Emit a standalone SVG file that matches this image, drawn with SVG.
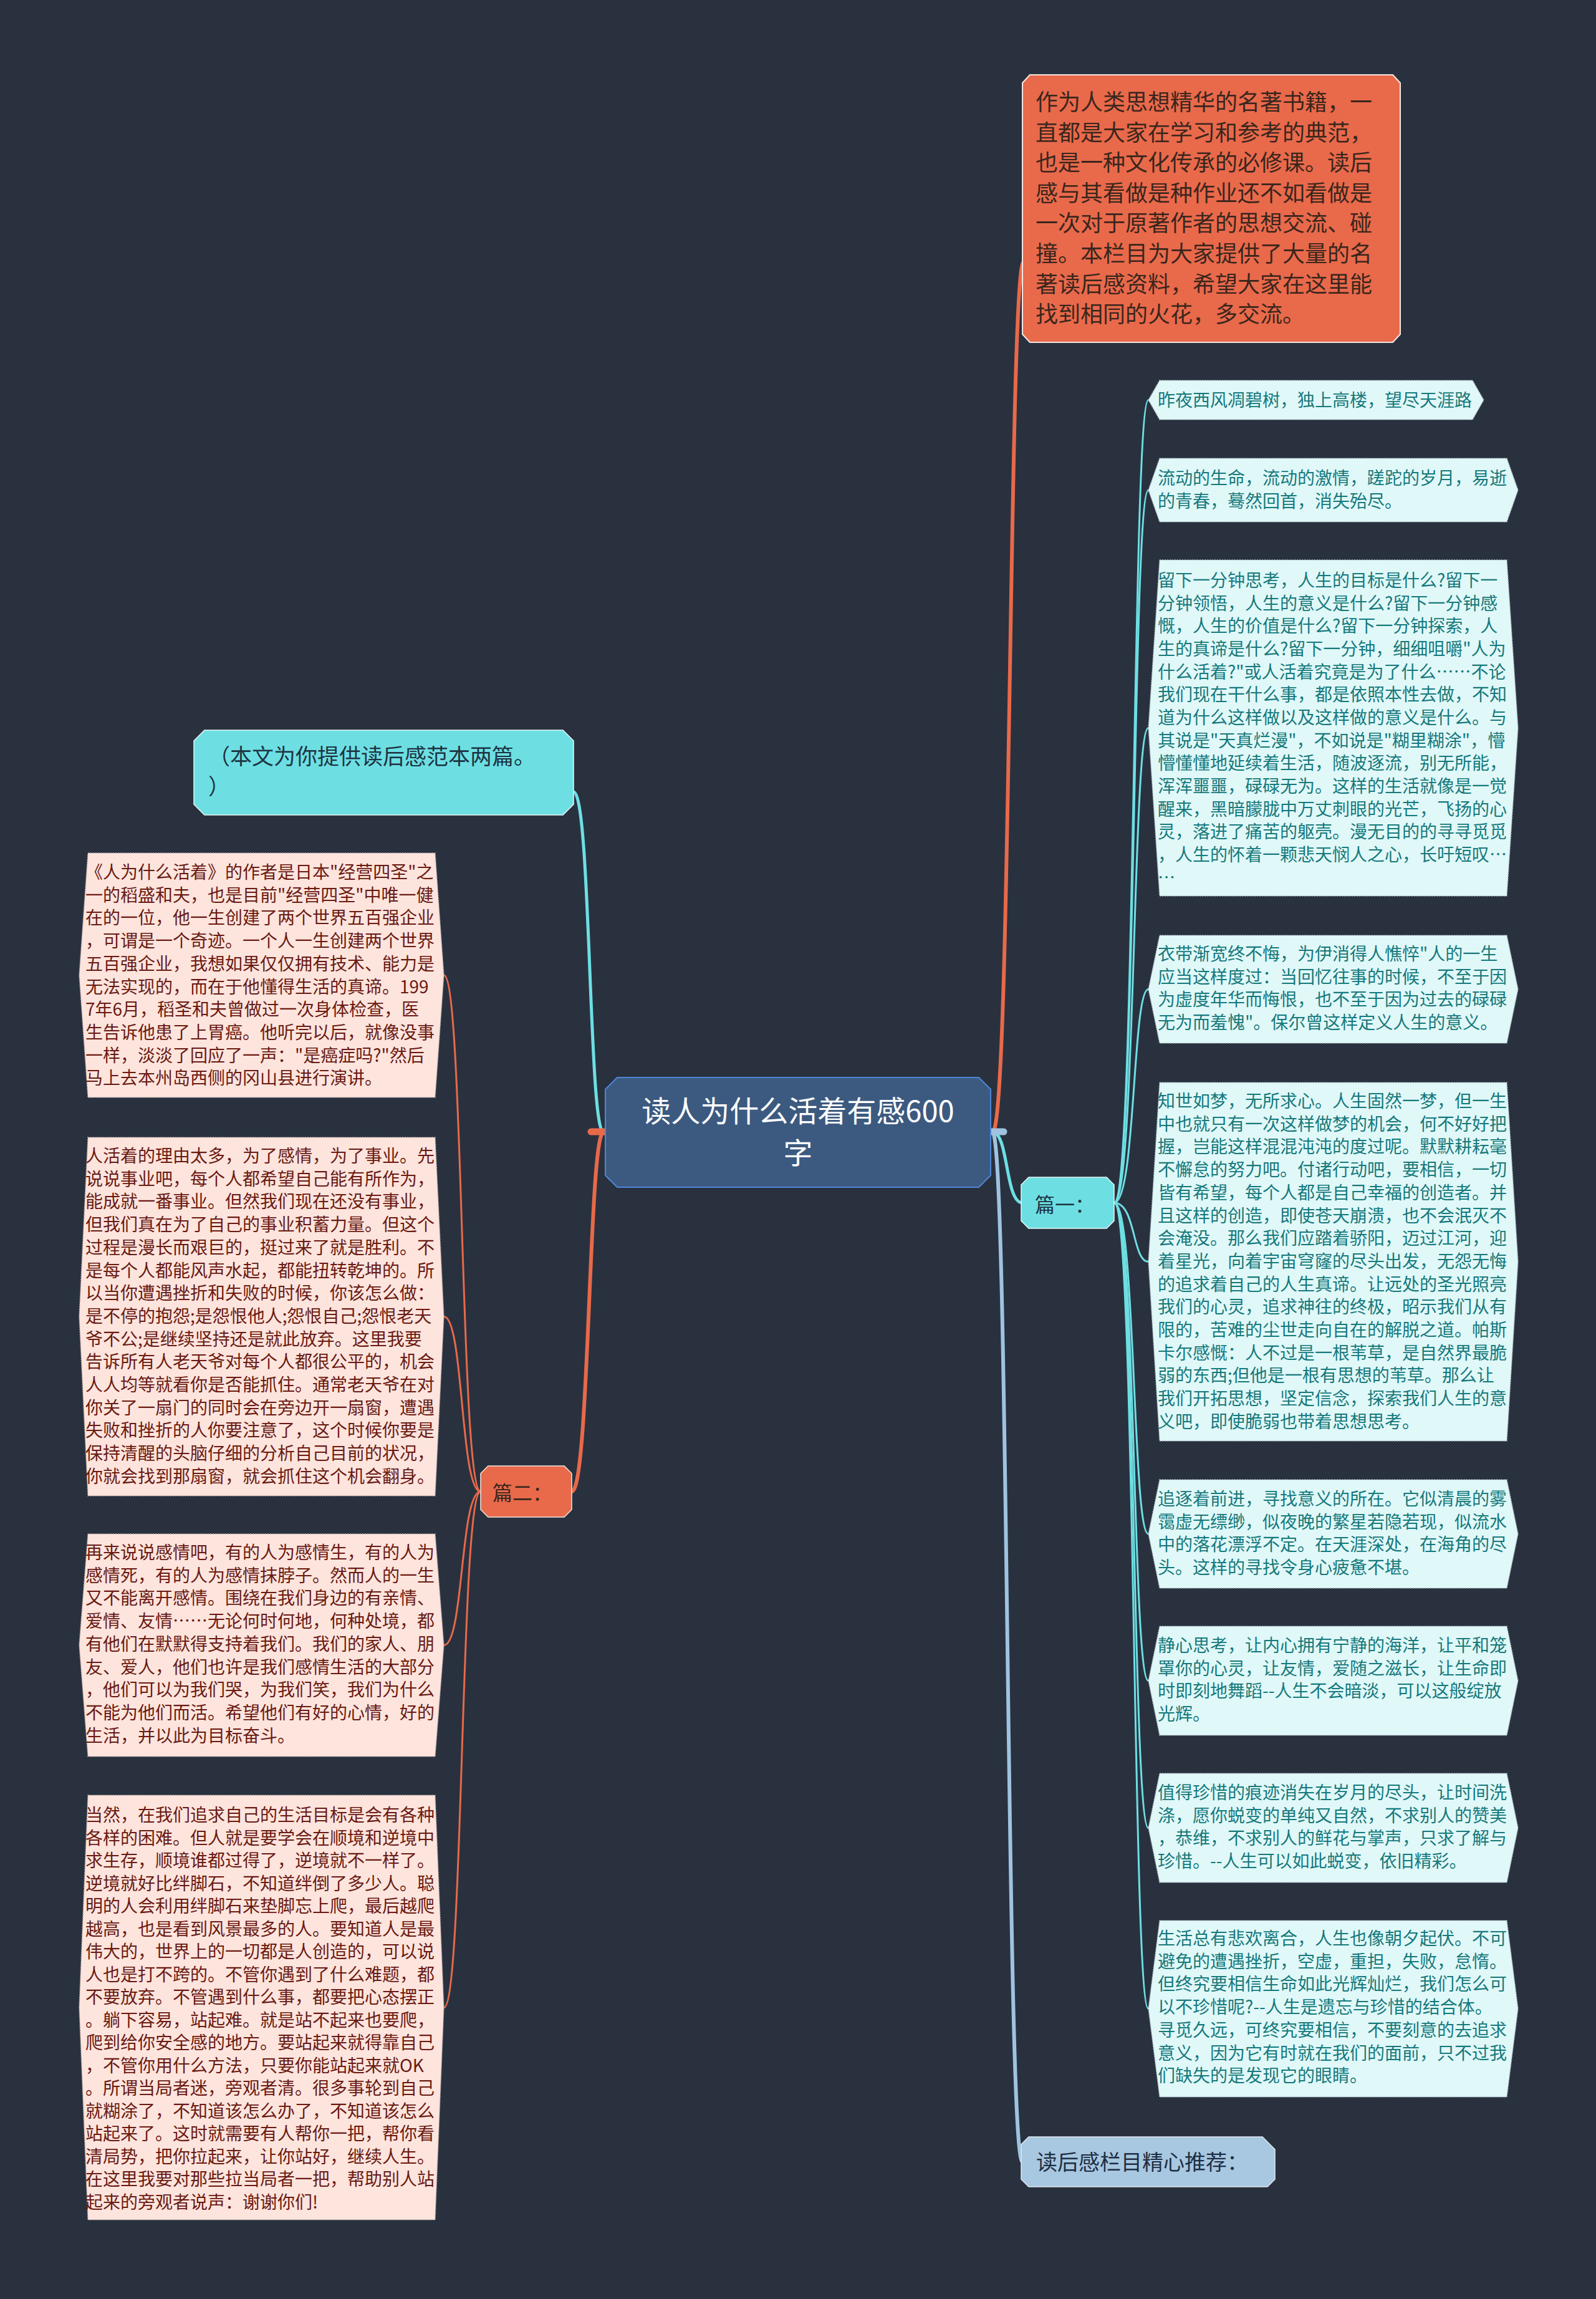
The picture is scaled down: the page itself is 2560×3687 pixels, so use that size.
<svg xmlns="http://www.w3.org/2000/svg" width="2560" height="3687" viewBox="0 0 2560 3687">
<style>
text{font-family:"Noto Sans CJK SC","Noto Sans",sans-serif}
.rt{font-size:28px;fill:#16797c}
.lt{font-size:28px;fill:#6a1a12}
.nr{fill:#e0f8f8;stroke:#aab8c0;stroke-width:1.5;stroke-dasharray:2 2}
.nl{fill:#fde4dd;stroke:#b9a8a6;stroke-width:1.5;stroke-dasharray:2 2}
.c{fill:none;stroke-linecap:round}
.or{stroke:#e8694a}
.cy{stroke:#6ddfe3}
.lb{stroke:#9fc3df}
</style>
<rect width="2560" height="3687" fill="#29313f"/>

<g id="connectors">
<path class="c or" stroke-width="6" d="M1592 1816 C1622 1816 1618 420 1642 420"/>
<path class="c lb" stroke-width="6" d="M1592 1816 C1618 1816 1614 3467 1640 3467"/>
<path class="c cy" stroke-width="5" d="M1592 1816 C1618 1816 1612 1929 1640 1929"/>
<line class="c lb" x1="1589" y1="1815" x2="1610" y2="1815" stroke-width="11"/>
<path class="c cy" stroke-width="5" d="M968 1816 C944 1816 948 1270 920 1270"/>
<path class="c or" stroke-width="6" d="M968 1816 C944 1816 946 2392 917 2392"/>
<line class="c or" x1="948" y1="1815" x2="971" y2="1815" stroke-width="11"/>
<g class="c cy" stroke-width="3">
<path d="M1787 1929 C1822 1929 1816 641.5 1842 641.5"/>
<path d="M1787 1929 C1822 1929 1816 786 1842 786"/>
<path d="M1787 1929 C1822 1929 1816 1167.5 1842 1167.5"/>
<path d="M1787 1929 C1822 1929 1816 1586.5 1842 1586.5"/>
<path d="M1787 1929 C1822 1929 1816 2023.5 1842 2023.5"/>
<path d="M1787 1929 C1822 1929 1816 2460 1842 2460"/>
<path d="M1787 1929 C1822 1929 1816 2695.5 1842 2695.5"/>
<path d="M1787 1929 C1822 1929 1816 2931.5 1842 2931.5"/>
<path d="M1787 1929 C1822 1929 1816 3221.5 1842 3221.5"/>
</g>
<g class="c or" stroke-width="3">
<path d="M771 2392 C738 2392 744 1564 712 1564"/>
<path d="M771 2392 C738 2392 744 2111.5 712 2111.5"/>
<path d="M771 2392 C738 2392 744 2638.5 712 2638.5"/>
<path d="M771 2392 C738 2392 744 3219.5 712 3219.5"/>
</g>
</g>

<g id="center">
<polygon points="990,1728 1570,1728 1589,1747 1589,1885 1570,1904 990,1904 971,1885 971,1747" fill="#3c5a80" stroke="#4f86d8" stroke-width="2"/>
<text text-anchor="middle" font-size="47" fill="#ffffff"><tspan x="1280" y="1799">读人为什么活着有感600</tspan><tspan x="1280" y="1866">字</tspan></text>
</g>

<g id="intro">
<polygon points="1652,120 2234,120 2246,133 2246,536 2234,549 1652,549 1640,536 1640,133" fill="#e9694b" stroke="#f4e6e0" stroke-width="2"/>
<text font-size="36" fill="#3a261c">
<tspan x="1661" y="177">作为人类思想精华的名著书籍，一</tspan>
<tspan x="1661" y="225.6">直都是大家在学习和参考的典范，</tspan>
<tspan x="1661" y="274.2">也是一种文化传承的必修课。读后</tspan>
<tspan x="1661" y="322.8">感与其看做是种作业还不如看做是</tspan>
<tspan x="1661" y="371.4">一次对于原著作者的思想交流、碰</tspan>
<tspan x="1661" y="420">撞。本栏目为大家提供了大量的名</tspan>
<tspan x="1661" y="468.6">著读后感资料，希望大家在这里能</tspan>
<tspan x="1661" y="517.2">找到相同的火花，多交流。</tspan>
</text>
</g>

<g id="pian1">
<polygon points="1650,1888 1775,1888 1787,1900 1787,1958 1775,1970 1650,1970 1638,1958 1638,1900" fill="#6ddfe3" stroke="#e8f8f8" stroke-width="1.5"/>
<text x="1660" y="1944" font-size="32" fill="#1d3442">篇一：</text>
</g>

<g id="recommend">
<polygon points="1650,3427 2025,3427 2045,3447 2045,3495 2033,3507 1650,3507 1638,3495 1638,3439" fill="#a8c7e0" stroke="#dfe9f2" stroke-width="1.5"/>
<text x="1662" y="3480" font-size="34" fill="#1d2f44">读后感栏目精心推荐：</text>
</g>

<g id="note">
<polygon points="328,1171 903,1171 920,1188 920,1290 903,1307 328,1307 311,1290 311,1188" fill="#6ddfe3" stroke="#e8f8f8" stroke-width="1.5"/>
<text font-size="35" fill="#1d3442">
<tspan x="334" y="1226">（本文为你提供读后感范本两篇。</tspan>
<tspan x="334" y="1274">）</tspan>
</text>
</g>

<g id="pian2">
<polygon points="783,2351 905,2351 917,2363 917,2421 905,2433 783,2433 771,2421 771,2363" fill="#e9694b" stroke="#f4e6e0" stroke-width="1.5"/>
<text x="790" y="2406" font-size="32" fill="#3a261c">篇二：</text>
</g>

<g id="r1">
<polygon class="nr" points="1860,610 2362,610 2380,641.5 2362,673 1860,673 1842,641.5"/>
<text class="rt" x="1857" y="652">昨夜西风凋碧树，独上高楼，望尽天涯路</text>
</g>

<g id="r2">
<polygon class="nr" points="1860,735 2417,735 2435,786 2417,837 1860,837 1842,786"/>
<text class="rt"><tspan x="1857" y="777">流动的生命，流动的激情，蹉跎的岁月，易逝</tspan><tspan x="1857" y="814">的青春，蓦然回首，消失殆尽。</tspan></text>
</g>

<g id="r3">
<polygon class="nr" points="1860,898 2417,898 2435,1167.5 2417,1437 1860,1437 1842,1167.5"/>
<text class="rt">
<tspan x="1857" y="941">留下一分钟思考，人生的目标是什么?留下一</tspan>
<tspan x="1857" y="977.7">分钟领悟，人生的意义是什么?留下一分钟感</tspan>
<tspan x="1857" y="1014.3">慨，人生的价值是什么?留下一分钟探索，人</tspan>
<tspan x="1857" y="1051">生的真谛是什么?留下一分钟，细细咀嚼"人为</tspan>
<tspan x="1857" y="1087.6">什么活着?"或人活着究竟是为了什么……不论</tspan>
<tspan x="1857" y="1124.3">我们现在干什么事，都是依照本性去做，不知</tspan>
<tspan x="1857" y="1160.9">道为什么这样做以及这样做的意义是什么。与</tspan>
<tspan x="1857" y="1197.6">其说是"天真烂漫"，不如说是"糊里糊涂"，懵</tspan>
<tspan x="1857" y="1234.2">懵懂懂地延续着生活，随波逐流，别无所能，</tspan>
<tspan x="1857" y="1270.9">浑浑噩噩，碌碌无为。这样的生活就像是一觉</tspan>
<tspan x="1857" y="1307.5">醒来，黑暗朦胧中万丈刺眼的光芒，飞扬的心</tspan>
<tspan x="1857" y="1344.2">灵，落进了痛苦的躯壳。漫无目的的寻寻觅觅</tspan>
<tspan x="1857" y="1380.8">，人生的怀着一颗悲天悯人之心，长吁短叹…</tspan>
<tspan x="1857" y="1417.5">…</tspan>
</text>
</g>

<g id="r4">
<polygon class="nr" points="1860,1500 2417,1500 2435,1586.5 2417,1673 1860,1673 1842,1586.5"/>
<text class="rt">
<tspan x="1857" y="1540">衣带渐宽终不悔，为伊消得人憔悴"人的一生</tspan>
<tspan x="1857" y="1576.7">应当这样度过：当回忆往事的时候，不至于因</tspan>
<tspan x="1857" y="1613.4">为虚度年华而悔恨，也不至于因为过去的碌碌</tspan>
<tspan x="1857" y="1650.1">无为而羞愧"。保尔曾这样定义人生的意义。</tspan>
</text>
</g>

<g id="r5">
<polygon class="nr" points="1860,1736 2417,1736 2435,2023.5 2417,2311 1860,2311 1842,2023.5"/>
<text class="rt">
<tspan x="1857" y="1776">知世如梦，无所求心。人生固然一梦，但一生</tspan>
<tspan x="1857" y="1812.7">中也就只有一次这样做梦的机会，何不好好把</tspan>
<tspan x="1857" y="1849.4">握，岂能这样混混沌沌的度过呢。默默耕耘毫</tspan>
<tspan x="1857" y="1886.1">不懈怠的努力吧。付诸行动吧，要相信，一切</tspan>
<tspan x="1857" y="1922.8">皆有希望，每个人都是自己幸福的创造者。并</tspan>
<tspan x="1857" y="1959.5">且这样的创造，即使苍天崩溃，也不会泯灭不</tspan>
<tspan x="1857" y="1996.2">会淹没。那么我们应踏着骄阳，迈过江河，迎</tspan>
<tspan x="1857" y="2032.9">着星光，向着宇宙穹窿的尽头出发，无怨无悔</tspan>
<tspan x="1857" y="2069.6">的追求着自己的人生真谛。让远处的圣光照亮</tspan>
<tspan x="1857" y="2106.3">我们的心灵，追求神往的终极，昭示我们从有</tspan>
<tspan x="1857" y="2143">限的，苦难的尘世走向自在的解脱之道。帕斯</tspan>
<tspan x="1857" y="2179.7">卡尔感慨：人不过是一根苇草，是自然界最脆</tspan>
<tspan x="1857" y="2216.4">弱的东西;但他是一根有思想的苇草。那么让</tspan>
<tspan x="1857" y="2253.1">我们开拓思想，坚定信念，探索我们人生的意</tspan>
<tspan x="1857" y="2289.8">义吧，即使脆弱也带着思想思考。</tspan>
</text>
</g>

<g id="r6">
<polygon class="nr" points="1860,2373 2417,2373 2435,2460 2417,2547 1860,2547 1842,2460"/>
<text class="rt">
<tspan x="1857" y="2414">追逐着前进，寻找意义的所在。它似清晨的雾</tspan>
<tspan x="1857" y="2450.7">霭虚无缥缈，似夜晚的繁星若隐若现，似流水</tspan>
<tspan x="1857" y="2487.4">中的落花漂浮不定。在天涯深处，在海角的尽</tspan>
<tspan x="1857" y="2524.1">头。这样的寻找令身心疲惫不堪。</tspan>
</text>
</g>

<g id="r7">
<polygon class="nr" points="1860,2608 2417,2608 2435,2695.5 2417,2783 1860,2783 1842,2695.5"/>
<text class="rt">
<tspan x="1857" y="2649">静心思考，让内心拥有宁静的海洋，让平和笼</tspan>
<tspan x="1857" y="2685.7">罩你的心灵，让友情，爱随之滋长，让生命即</tspan>
<tspan x="1857" y="2722.4">时即刻地舞蹈--人生不会暗淡，可以这般绽放</tspan>
<tspan x="1857" y="2759.1">光辉。</tspan>
</text>
</g>

<g id="r8">
<polygon class="nr" points="1860,2844 2417,2844 2435,2931.5 2417,3019 1860,3019 1842,2931.5"/>
<text class="rt">
<tspan x="1857" y="2885">值得珍惜的痕迹消失在岁月的尽头，让时间洗</tspan>
<tspan x="1857" y="2921.7">涤，愿你蜕变的单纯又自然，不求别人的赞美</tspan>
<tspan x="1857" y="2958.4">，恭维，不求别人的鲜花与掌声，只求了解与</tspan>
<tspan x="1857" y="2995.1">珍惜。--人生可以如此蜕变，依旧精彩。</tspan>
</text>
</g>

<g id="r9">
<polygon class="nr" points="1860,3080 2417,3080 2435,3221.5 2417,3363 1860,3363 1842,3221.5"/>
<text class="rt">
<tspan x="1857" y="3119">生活总有悲欢离合，人生也像朝夕起伏。不可</tspan>
<tspan x="1857" y="3155.7">避免的遭遇挫折，空虚，重担，失败，怠惰。</tspan>
<tspan x="1857" y="3192.4">但终究要相信生命如此光辉灿烂，我们怎么可</tspan>
<tspan x="1857" y="3229.1">以不珍惜呢?--人生是遗忘与珍惜的结合体。</tspan>
<tspan x="1857" y="3265.8">寻觅久远，可终究要相信，不要刻意的去追求</tspan>
<tspan x="1857" y="3302.5">意义，因为它有时就在我们的面前，只不过我</tspan>
<tspan x="1857" y="3339.2">们缺失的是发现它的眼睛。</tspan>
</text>
</g>

<g id="l1">
<polygon class="nl" points="141,1368 698,1368 712,1564 698,1760 141,1760 127,1564"/>
<text class="lt">
<tspan x="137" y="1409">《人为什么活着》的作者是日本"经营四圣"之</tspan>
<tspan x="137" y="1445.7">一的稻盛和夫，也是目前"经营四圣"中唯一健</tspan>
<tspan x="137" y="1482.4">在的一位，他一生创建了两个世界五百强企业</tspan>
<tspan x="137" y="1519.1">，可谓是一个奇迹。一个人一生创建两个世界</tspan>
<tspan x="137" y="1555.8">五百强企业，我想如果仅仅拥有技术、能力是</tspan>
<tspan x="137" y="1592.5">无法实现的，而在于他懂得生活的真谛。199</tspan>
<tspan x="137" y="1629.2">7年6月，稻圣和夫曾做过一次身体检查，医</tspan>
<tspan x="137" y="1665.9">生告诉他患了上胃癌。他听完以后，就像没事</tspan>
<tspan x="137" y="1702.6">一样，淡淡了回应了一声："是癌症吗?"然后</tspan>
<tspan x="137" y="1739.3">马上去本州岛西侧的冈山县进行演讲。</tspan>
</text>
</g>

<g id="l2">
<polygon class="nl" points="141,1824 698,1824 712,2111.5 698,2399 141,2399 127,2111.5"/>
<text class="lt">
<tspan x="137" y="1864">人活着的理由太多，为了感情，为了事业。先</tspan>
<tspan x="137" y="1900.7">说说事业吧，每个人都希望自己能有所作为，</tspan>
<tspan x="137" y="1937.4">能成就一番事业。但然我们现在还没有事业，</tspan>
<tspan x="137" y="1974.1">但我们真在为了自己的事业积蓄力量。但这个</tspan>
<tspan x="137" y="2010.8">过程是漫长而艰巨的，挺过来了就是胜利。不</tspan>
<tspan x="137" y="2047.5">是每个人都能风声水起，都能扭转乾坤的。所</tspan>
<tspan x="137" y="2084.2">以当你遭遇挫折和失败的时候，你该怎么做：</tspan>
<tspan x="137" y="2120.9">是不停的抱怨;是怨恨他人;怨恨自己;怨恨老天</tspan>
<tspan x="137" y="2157.6">爷不公;是继续坚持还是就此放弃。这里我要</tspan>
<tspan x="137" y="2194.3">告诉所有人老天爷对每个人都很公平的，机会</tspan>
<tspan x="137" y="2231">人人均等就看你是否能抓住。通常老天爷在对</tspan>
<tspan x="137" y="2267.7">你关了一扇门的同时会在旁边开一扇窗，遭遇</tspan>
<tspan x="137" y="2304.4">失败和挫折的人你要注意了，这个时候你要是</tspan>
<tspan x="137" y="2341.1">保持清醒的头脑仔细的分析自己目前的状况，</tspan>
<tspan x="137" y="2377.8">你就会找到那扇窗，就会抓住这个机会翻身。</tspan>
</text>
</g>

<g id="l3">
<polygon class="nl" points="141,2460 698,2460 712,2638.5 698,2817 141,2817 127,2638.5"/>
<text class="lt">
<tspan x="137" y="2500">再来说说感情吧，有的人为感情生，有的人为</tspan>
<tspan x="137" y="2536.7">感情死，有的人为感情抹脖子。然而人的一生</tspan>
<tspan x="137" y="2573.4">又不能离开感情。围绕在我们身边的有亲情、</tspan>
<tspan x="137" y="2610.1">爱情、友情……无论何时何地，何种处境，都</tspan>
<tspan x="137" y="2646.8">有他们在默默得支持着我们。我们的家人、朋</tspan>
<tspan x="137" y="2683.5">友、爱人，他们也许是我们感情生活的大部分</tspan>
<tspan x="137" y="2720.2">，他们可以为我们哭，为我们笑，我们为什么</tspan>
<tspan x="137" y="2756.9">不能为他们而活。希望他们有好的心情，好的</tspan>
<tspan x="137" y="2793.6">生活，并以此为目标奋斗。</tspan>
</text>
</g>

<g id="l4">
<polygon class="nl" points="141,2879 698,2879 712,3219.5 698,3560 141,3560 127,3219.5"/>
<text class="lt">
<tspan x="137" y="2921">当然，在我们追求自己的生活目标是会有各种</tspan>
<tspan x="137" y="2957.5">各样的困难。但人就是要学会在顺境和逆境中</tspan>
<tspan x="137" y="2994">求生存，顺境谁都过得了，逆境就不一样了。</tspan>
<tspan x="137" y="3030.5">逆境就好比绊脚石，不知道绊倒了多少人。聪</tspan>
<tspan x="137" y="3067">明的人会利用绊脚石来垫脚忘上爬，最后越爬</tspan>
<tspan x="137" y="3103.5">越高，也是看到风景最多的人。要知道人是最</tspan>
<tspan x="137" y="3140">伟大的，世界上的一切都是人创造的，可以说</tspan>
<tspan x="137" y="3176.5">人也是打不跨的。不管你遇到了什么难题，都</tspan>
<tspan x="137" y="3213">不要放弃。不管遇到什么事，都要把心态摆正</tspan>
<tspan x="137" y="3249.5">。躺下容易，站起难。就是站不起来也要爬，</tspan>
<tspan x="137" y="3286">爬到给你安全感的地方。要站起来就得靠自己</tspan>
<tspan x="137" y="3322.5">，不管你用什么方法，只要你能站起来就OK</tspan>
<tspan x="137" y="3359">。所谓当局者迷，旁观者清。很多事轮到自己</tspan>
<tspan x="137" y="3395.5">就糊涂了，不知道该怎么办了，不知道该怎么</tspan>
<tspan x="137" y="3432">站起来了。这时就需要有人帮你一把，帮你看</tspan>
<tspan x="137" y="3468.5">清局势，把你拉起来，让你站好，继续人生。</tspan>
<tspan x="137" y="3505">在这里我要对那些拉当局者一把，帮助别人站</tspan>
<tspan x="137" y="3541.5">起来的旁观者说声：谢谢你们!</tspan>
</text>
</g>
</svg>
